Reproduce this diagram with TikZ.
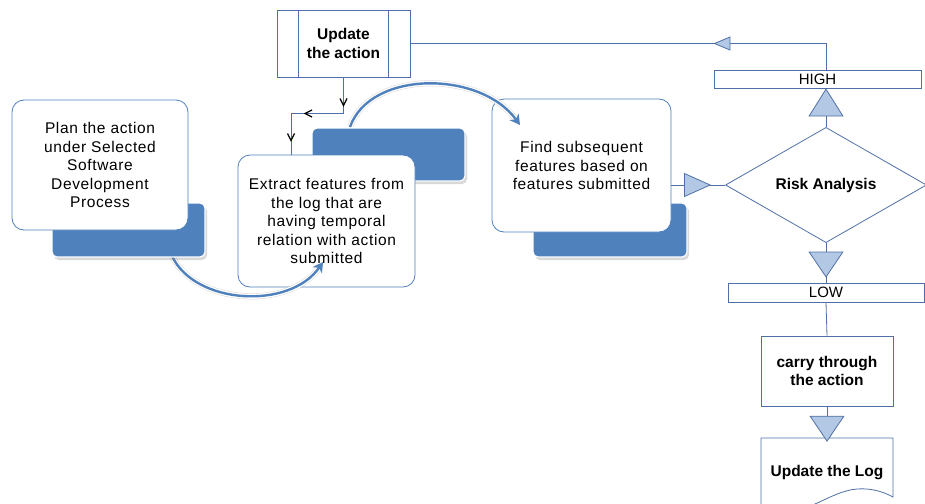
\documentclass[tikz,border=0pt]{standalone}
\usepackage{fontspec}
\setmainfont{Liberation Sans}
\newfontfamily\bodyfont[LetterSpace=4]{Liberation Sans}
\usetikzlibrary{shapes.geometric,arrows.meta,shadows}
\definecolor{sablue}{RGB}{79,129,189}
\definecolor{flow}{RGB}{79,112,166}
\definecolor{trifill}{RGB}{178,200,228}
\newcommand{\txtfont}{\bodyfont\fontsize{15.5}{18.5}\selectfont}
\newcommand{\boldfont}{\bfseries\fontsize{15.5}{18.5}\selectfont}
\newcommand{\labfont}{\fontsize{15}{18}\selectfont}
\begin{document}
\begin{tikzpicture}[x=1pt,y=-1pt,
  whitebox/.style={draw=sablue, line width=0.8pt, fill=white, rounded corners=12pt, align=center, font=\txtfont, inner sep=0pt},
  bluebox/.style={fill=sablue, draw=white, line width=1.2pt, rounded corners=5pt, drop shadow={shadow xshift=2pt, shadow yshift=-3pt, opacity=0.3}},
  flowbox/.style={draw=flow, line width=0.8pt, fill=white, inner sep=0pt, align=center},
  flowline/.style={draw=flow, line width=0.8pt},
  chev/.style={draw=black, line width=1.2pt},
  bigarrow/.style={draw=sablue, line width=2.4pt, -{Stealth[length=10pt,width=11pt,inset=3pt]},
     preaction={draw=black!30, line width=6pt, opacity=0.5},
     preaction={draw=white, line width=5pt}},
  tipA/.tip={Triangle[length=28pt,width=35pt,fill=trifill]},
  tipB/.tip={Triangle[length=26pt,width=35pt,fill=trifill]},
  tipC/.tip={Triangle[length=27pt,width=24pt,fill=trifill]},
  tipD/.tip={Triangle[length=17pt,width=14pt,fill=trifill]}
]
\useasboundingbox (0,0) rectangle (925,503);
\clip (0,0) rectangle (925,503);

% Find boxes
\node[bluebox, minimum width=154pt, minimum height=54pt] (findb) at (610,230) {};
\node[whitebox, minimum width=179pt, minimum height=133pt] (find) at (581.5,165.5) {Find subsequent\\features based on\\features submitted};

% arrow 2
\coordinate (a2s) at (350,127);
\coordinate (a2e) at (520,125);
\draw[bigarrow] (a2s) .. controls (370,70) and (480,70) .. (a2e);

% Extract boxes
\node[bluebox, minimum width=153pt, minimum height=53pt] (extb) at (388.5,154.5) {};
\node[whitebox, minimum width=177pt, minimum height=132pt] (ext) at (326.5,221) {Extract features from\\the log that are\\having temporal\\relation with action\\submitted};

% arrow 1
\coordinate (a1s) at (172,256);
\coordinate (a1e) at (323,262);
\draw[bigarrow] (a1s) .. controls (195,305) and (290,310) .. (a1e);

% Plan boxes
\node[bluebox, minimum width=153pt, minimum height=54pt] (planb) at (128.5,230) {};
\node[whitebox, minimum width=176pt, minimum height=130pt] (plan) at (100,165) {Plan the action\\under Selected\\Software\\Development\\Process};

% Update the action
\node[flowbox, minimum width=133pt, minimum height=67pt, font=\boldfont] (upd) at (343.5,43.5) {Update\\the action};
\draw[flowline] ([xshift=22pt]upd.north west) -- ([xshift=22pt]upd.south west);
\draw[flowline] ([xshift=-22pt]upd.north east) -- ([xshift=-22pt]upd.south east);

% elbow connector to Extract
\coordinate (elb) at (291,113);
\draw[flowline] (upd.south) |- (elb) -- (elb |- ext.north);
\draw[chev] (340,98.5) -- (343.5,105.5) -- (347,98.5);
\draw[chev] (312,110) -- (305,113.5) -- (312,117);
\draw[chev] (287.5,133.5) -- (291,140.5) -- (294.5,133.5);

% right flowchart
\node[flowbox, minimum width=207pt, minimum height=18pt, font=\labfont] (high) at (817.5,79) {HIGH};
\node[flowbox, diamond, minimum width=201pt, minimum height=106pt, font=\boldfont] (risk) at (826,185) {Risk Analysis};
\node[flowbox, minimum width=196pt, minimum height=19pt, font=\labfont] (low) at (826,292.5) {LOW};
\node[flowbox, minimum width=132pt, minimum height=70pt, font=\boldfont] (carry) at (827,371) {carry through\\the action};

% document shape
\draw[flowline, fill=white] (761,438) -- (893,438) -- (893,497)
  .. controls (882,491) and (870,488) .. (857,489)
  .. controls (828,491) and (800,522) .. (761,512) -- cycle;
\node[font=\boldfont, minimum width=132pt, minimum height=70pt, inner sep=0pt] (log) at (827,473) {Update the Log};

% connectors
\coordinate (hc) at (risk.north |- high.north);
\draw[flowline] (hc) |- (upd.east);
\draw[flowline, -{tipD}] (hc |- upd.east) -- ([xshift=303pt]upd.east);
\draw[flowline, -{tipA}] (risk.north) -- (risk.north |- high.south);
\draw[flowline] (risk.south) -- (low.north);
\draw[flowline, -{tipB}] (risk.south) -- ([yshift=5pt]low.north);
\draw[flowline] (find.east |- risk.west) -- (risk.west);
\draw[flowline, -{tipC}] (find.east |- risk.west) -- ([xshift=-14pt]risk.west);
\draw[flowline] (low.south) -- (carry.north);
\draw[flowline, -{tipB}] (carry.south) -- ([yshift=-4pt]log.north);
\end{tikzpicture}
\end{document}
